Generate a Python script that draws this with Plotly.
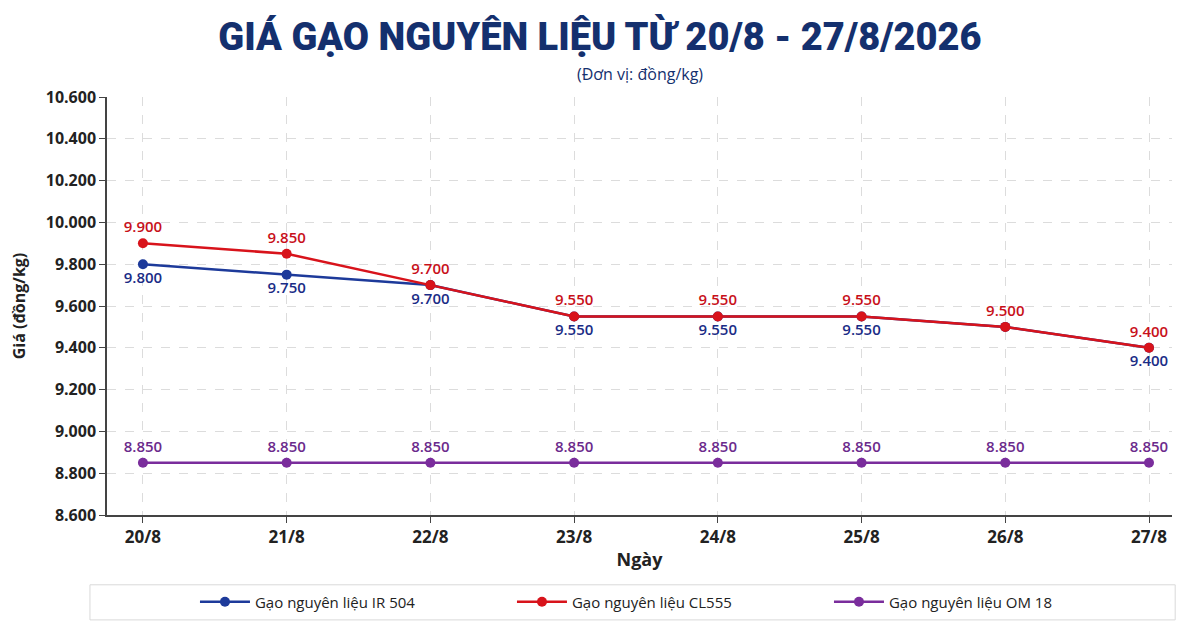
import plotly.graph_objects as go

# Data
days = ["20/8", "21/8", "22/8", "23/8", "24/8", "25/8", "26/8", "27/8"]
ir504 = [9800, 9750, 9700, 9550, 9550, 9550, 9500, 9400]
cl555 = [9900, 9850, 9700, 9550, 9550, 9550, 9500, 9400]
om18 = [8850, 8850, 8850, 8850, 8850, 8850, 8850, 8850]
ir504_labels = ["9.800", "9.750", "9.700", "9.550", "9.550", "9.550", "", "9.400"]
cl555_labels = ["9.900", "9.850", "9.700", "9.550", "9.550", "9.550", "9.500", "9.400"]
om18_labels = ["8.850"] * 8

NAVY = "#14306e"
BLUE = "#1d3a9a"
RED = "#d8131b"
PURPLE = "#7a2d9c"
FONT = "Open Sans"

fig = go.Figure()

fig.add_trace(go.Scatter(
    x=days, y=om18, name="Gạo nguyên liệu OM 18", legendrank=3,
    mode="lines+markers+text", text=om18_labels, textposition="top center",
    line=dict(color=PURPLE, width=2.5), marker=dict(size=10, color=PURPLE),
    textfont=dict(color="#6b2a8c", size=15, family=FONT, weight=600),
))
fig.add_trace(go.Scatter(
    x=days, y=ir504, name="Gạo nguyên liệu IR 504", legendrank=1,
    mode="lines+markers+text", text=ir504_labels, textposition="bottom center",
    line=dict(color=BLUE, width=2.5), marker=dict(size=10, color=BLUE),
    textfont=dict(color="#1a2c86", size=15, family=FONT, weight=600),
))
fig.add_trace(go.Scatter(
    x=days, y=cl555, name="Gạo nguyên liệu CL555", legendrank=2,
    mode="lines+markers+text", text=cl555_labels, textposition="top center",
    line=dict(color=RED, width=2.5), marker=dict(size=10, color=RED),
    textfont=dict(color="#c8101a", size=15, family=FONT, weight=600),
))

# the page adds an 8px body margin, so the figure is sized a bit smaller
fig.update_layout(
    width=1184, height=614,
    paper_bgcolor="white", plot_bgcolor="white",
    margin=dict(l=99, r=20, t=89, b=107, autoexpand=False),
    separators=",.",
    font=dict(family=FONT, color="#222"),
    title=dict(
        text="GIÁ GẠO NGUYÊN LIỆU TỪ 20/8 - 27/8/2026",
        x=0.5, xanchor="center", y=0.953, yanchor="middle",
        font=dict(size=38, color=NAVY, family="Roboto", weight=900),
    ),
    showlegend=True,
    legend=dict(
        orientation="h", x=0.0826, xanchor="left", y=-0.208, yanchor="middle",
        entrywidth=252, entrywidthmode="pixels", itemwidth=50,
        font=dict(size=15, color="#222", family=FONT),
        bgcolor="rgba(0,0,0,0)",
    ),
    annotations=[dict(
        text="(Đơn vị: đồng/kg)", xref="paper", yref="paper",
        x=0.5, y=1.055, xanchor="center", yanchor="middle", showarrow=False,
        font=dict(size=16, color=NAVY, family=FONT),
    )],
    shapes=[dict(
        type="rect", xref="paper", yref="paper",
        x0=-0.016, x1=1.003, y0=-0.251, y1=-0.167,
        line=dict(color="#d9d9d9", width=1), fillcolor="rgba(0,0,0,0)",
    )],
)

fig.update_xaxes(
    range=[-0.25, 7.16], automargin=False,
    showgrid=True, gridcolor="#dcdcdc", griddash="dash", gridwidth=1,
    showline=True, linecolor="#444", linewidth=2,
    ticks="outside", ticklen=6, tickcolor="#444",
    tickfont=dict(size=17, color="#222", family=FONT, weight="bold"),
    title=dict(text="<b>Ngày</b>", font=dict(size=18, color="#222"), standoff=6),
)
fig.update_yaxes(
    range=[8600, 10600], dtick=200, tickformat=",d", automargin=False,
    showgrid=True, gridcolor="#dcdcdc", griddash="dash", gridwidth=1,
    showline=True, linecolor="#444", linewidth=1.5,
    ticks="outside", ticklen=6, tickcolor="#444",
    zeroline=False,
    tickfont=dict(size=16, color="#222", family=FONT, weight="bold"),
    title=dict(text="<b>Giá (đồng/kg)</b>", font=dict(size=16, color="#222"), standoff=16),
)

fig.write_html("out.html")
